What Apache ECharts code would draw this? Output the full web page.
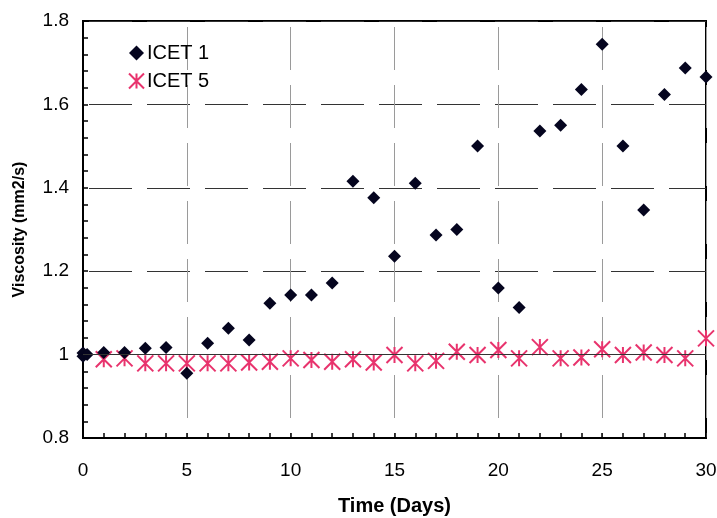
<!DOCTYPE html>
<html><head><meta charset="utf-8">
<script src="https://cdn.jsdelivr.net/npm/echarts@6/dist/echarts.min.js"></script>
<style>html,body{margin:0;padding:0;background:#fff}#c{width:717px;height:518px}</style>
</head><body><div id="c"></div>
<script>
const icet1Days = [0, 0, 0.2, 1, 2, 3, 4, 5, 6, 7, 8, 9, 10, 11, 12, 13, 14, 15, 16, 17, 18, 19, 20, 21, 22, 23, 24, 25, 26, 27, 28, 29, 30];
const icet1Vals = [0.996, 1.004, 1.0, 1.005, 1.005, 1.015, 1.017, 0.955, 1.027, 1.063, 1.035, 1.123, 1.143, 1.143, 1.172, 1.416, 1.376, 1.236, 1.411, 1.287, 1.30, 1.50, 1.16, 1.113, 1.536, 1.55, 1.636, 1.744, 1.50, 1.347, 1.624, 1.687, 1.666];
const icet5Days = [1, 2, 3, 4, 5, 6, 7, 8, 9, 10, 11, 12, 13, 14, 15, 16, 17, 18, 19, 20, 21, 22, 23, 24, 25, 26, 27, 28, 29, 30];
const icet5Vals = [0.989, 0.991, 0.979, 0.979, 0.979, 0.979, 0.979, 0.981, 0.983, 0.991, 0.987, 0.983, 0.989, 0.981, 0.999, 0.979, 0.985, 1.007, 0.999, 1.011, 0.991, 1.018, 0.991, 0.993, 1.013, 0.999, 1.005, 0.999, 0.991, 1.039];
const seriesNames = ['ICET 1', 'ICET 5'];
const xTitle = 'Time (Days)';
const yTitle = 'Viscosity (mm2/s)';

const starPath = 'path://M0,0 L10,10 M10,0 L0,10 M5,0 L5,10';
const font = 'Liberation Sans, Arial, sans-serif';
const diamondColor = '#05051f';
const starColor = '#e8336d';
const chart = echarts.init(document.getElementById('c'));
chart.setOption({
  animation: false,
  backgroundColor: '#ffffff',
  grid: {left: 83, right: 11, top: 21, bottom: 80, outerBoundsMode: 'none', containLabel: false,
    show: true, borderColor: '#000', borderWidth: 2, backgroundColor: 'transparent'},
  legend: {
    orient: 'vertical', left: 123, top: 38, itemGap: 8, itemWidth: 15, itemHeight: 15,
    textStyle: {fontFamily: font, fontSize: 20, color: '#000', padding: [0, 0, 0, -2]},
    data: [
      {name: seriesNames[0], icon: 'diamond', itemStyle: {color: diamondColor, opacity: 1}},
      {name: seriesNames[1], icon: starPath, itemStyle: {color: 'transparent', borderColor: starColor, borderWidth: 2, opacity: 1}}
    ]
  },
  xAxis: {
    type: 'value', min: 0, max: 30, interval: 5,
    name: xTitle, nameLocation: 'middle', nameGap: 58,
    nameTextStyle: {fontFamily: font, fontSize: 20, fontWeight: 'bold', color: '#000'},
    axisLine: {lineStyle: {color: '#000', width: 2}},
    axisTick: {inside: true, length: 5, lineStyle: {color: '#000', width: 1.5}},
    minorTick: {show: true, splitNumber: 5, length: 5, lineStyle: {color: '#000', width: 1.5}},
    axisLabel: {fontFamily: font, fontSize: 19, color: '#000', margin: 23},
    splitLine: {show: true, lineStyle: {color: '#9a9a9a', width: 1, type: [43, 15], dashOffset: 52}}
  },
  yAxis: {
    type: 'value', min: 0.8, max: 1.8, interval: 0.2,
    name: yTitle, nameLocation: 'middle', nameGap: 55,
    nameTextStyle: {fontFamily: font, fontSize: 16, fontWeight: 'bold', color: '#000'},
    axisLine: {lineStyle: {color: '#000', width: 2}},
    axisTick: {inside: true, length: 5, lineStyle: {color: '#000', width: 1.5}},
    minorTick: {show: true, splitNumber: 5, length: 5, lineStyle: {color: '#000', width: 1.5}},
    axisLabel: {fontFamily: font, fontSize: 19, color: '#000', margin: 14,
      formatter: v => String(Math.round(v * 10) / 10)},
    splitLine: {show: true, lineStyle: {color: '#333', width: 1, type: [43, 15], dashOffset: 52}}
  },
  series: [
    {
      name: seriesNames[1], type: 'scatter', z: 2,
      symbol: starPath, symbolSize: 16,
      itemStyle: {color: 'transparent', borderColor: starColor, borderWidth: 2, opacity: 1},
      data: icet5Days.map((d, i) => [d, icet5Vals[i]]),
      markLine: {silent: true, symbol: 'none', label: {show: false},
        lineStyle: {color: '#333', width: 1, type: 'solid'},
        data: [{yAxis: 1}]}
    },
    {
      name: seriesNames[0], type: 'scatter', z: 3,
      symbol: 'diamond', symbolSize: 13,
      itemStyle: {color: diamondColor, opacity: 1},
      data: icet1Days.map((d, i) => [d, icet1Vals[i]])
    }
  ]
});
</script></body></html>
